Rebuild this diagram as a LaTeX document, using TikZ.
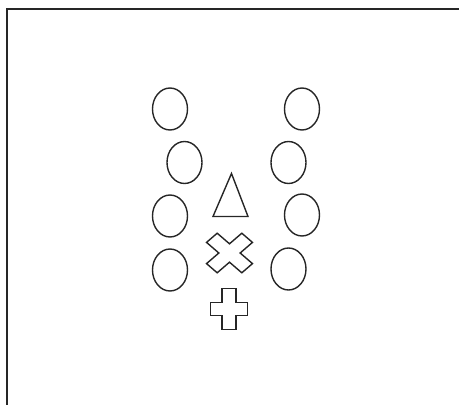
\documentclass[tikz,border=0pt]{standalone}
\usetikzlibrary{shapes.geometric}
\tikzset{
  oval/.style={draw=black!85, line width=1.4pt, ellipse, inner sep=0pt, minimum width=35pt, minimum height=42pt},
  shp/.style={draw=black!85, line width=1.4pt, line join=miter},
  frame/.style={draw=black!85, line width=2pt}
}
\begin{document}
\begin{tikzpicture}[x=1pt,y=-1pt]
\useasboundingbox (0,0) rectangle (459,405);
\draw[frame] (7,405) -- (7,8.5) -- (459,8.5);
% left column
\node[oval] (l1) at (170,109) {};
\node[oval] (l2) at (184.5,162.5) {};
\node[oval] (l3) at (170,216) {};
\node[oval] (l4) at (170,270) {};
% right column
\node[oval] (r1) at (302,109) {};
\node[oval] (r2) at (288.5,162.5) {};
\node[oval] (r3) at (302,215) {};
\node[oval] (r4) at (288.5,269) {};
% triangle
\draw[shp] (231.5,173.5) -- (248,216.5) -- (213,216.5) -- cycle;
% X cross
\begin{scope}[shift={(229.5,253)}, xscale=1.16, rotate=45]
\draw[shp] (-6.5,-21.5) -- (6.5,-21.5) -- (6.5,-6.5) -- (21.5,-6.5) -- (21.5,6.5) -- (6.5,6.5) -- (6.5,21.5) -- (-6.5,21.5) -- (-6.5,6.5) -- (-21.5,6.5) -- (-21.5,-6.5) -- (-6.5,-6.5) -- cycle;
\end{scope}
% plus
\begin{scope}[shift={(229,309)}]
\draw[shp] (-7,-20.5) -- (7,-20.5) -- (7,-6.5) -- (18.5,-6.5) -- (18.5,6.5) -- (7,6.5) -- (7,20.5) -- (-7,20.5) -- (-7,6.5) -- (-18.5,6.5) -- (-18.5,-6.5) -- (-7,-6.5) -- cycle;
\end{scope}
\end{tikzpicture}
\end{document}
